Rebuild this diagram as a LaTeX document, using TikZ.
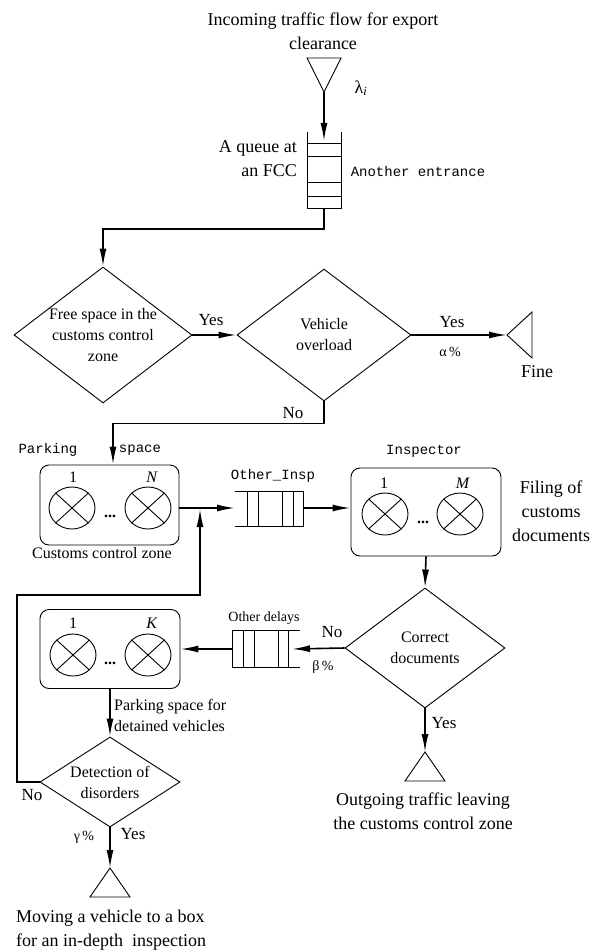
\documentclass[tikz,border=0pt]{standalone}
\usepackage{fontspec}
\setmainfont{Liberation Serif}
\setmonofont{Liberation Mono}
\usetikzlibrary{shapes.geometric,arrows.meta}
\begin{document}
\begin{tikzpicture}[x=1pt,y=-1pt,
  big/.style={font=\fontsize{18}{24}\selectfont, inner sep=0pt},
  txt/.style={font=\fontsize{16}{21}\selectfont, align=center, inner sep=0pt},
  yn/.style={font=\fontsize{17}{20}\selectfont, inner sep=0pt},
  small/.style={font=\fontsize{14}{16}\selectfont, inner sep=0pt},
  mono/.style={font=\fontsize{14}{16}\selectfont\ttfamily, inner sep=0pt},
  thinline/.style={line width=0.9pt},
  conn/.style={line width=1.6pt, -{Latex[length=18pt,width=7pt]}},
  plainline/.style={line width=1.2pt},
  dia/.style={shape=diamond, draw, line width=0.9pt, inner sep=0pt},
  srv/.style={draw, line width=0.9pt, rounded corners=9pt, inner sep=0pt},
  disk/.style={shape=ellipse, draw, line width=0.9pt, minimum width=46pt, minimum height=42pt, inner sep=0pt},
  dots/.style={font=\fontsize{16}{16}\selectfont\bfseries, inner sep=0pt}
]
\useasboundingbox (0,0) rectangle (592,952);

% ---------- top source ----------
\node[big, align=center] (intext) at (323,31) {Incoming traffic flow for export\\clearance};
\draw[thinline] (307,58) -- (341,58) -- (324,92) -- cycle;
\coordinate (src) at (324,92);
\node[big] (lam) at (361,88) {λ\textsubscript{\textit{i}}};

% ---------- vertical queue ----------
\draw[thinline] (307,132) -- (307,208) -- (341,208) -- (341,132);
\foreach \yy in {143,156,182,196} \draw[thinline] (307,\yy) -- (341,\yy);
\coordinate (q1in) at (324,141);
\coordinate (q1out) at (324,208);
\node[big, align=right, anchor=east] (qlab) at (297,159) {A queue at\\an FCC};
\node[mono] (another) at (418,171) {Another entrance};
\draw[conn] (src) -- (q1in);

% ---------- decisions ----------
\node[dia, minimum width=178pt, minimum height=136pt] (d1) at (103,335) {};
\node[txt] (d1t) at (d1.center) {Free space in the\\customs control\\zone};
\node[dia, minimum width=174pt, minimum height=132pt] (d2) at (324,335) {};
\node[txt] (d2t) at (d2.center) {Vehicle\\overload};

\draw[conn] (q1out) -- ++(0,21) -| (d1.north);
\draw[conn] (d1.east) -- (d2.west);
\node[yn] (yes1) at (211,320) {Yes};

% Fine
\draw[thinline] (507,335) -- (532,312) -- (532,358) -- cycle;
\coordinate (fine) at (507,335);
\draw[conn] (d2.east) -- (fine);
\node[yn] (yes2) at (452,322) {Yes};
\node[small] (alpha) at (450,352) {α\,\%};
\node[big] (finet) at (537,372) {Fine};

% ---------- parking ----------
\node[srv, minimum width=139pt, minimum height=80pt] (pbox) at (109.5,505) {};
\node[disk] (p1) at (72,508) {};
\node[disk] (pN) at (148,508) {};
\draw[thinline] (p1.north west) -- (p1.south east) (p1.north east) -- (p1.south west);
\draw[thinline] (pN.north west) -- (pN.south east) (pN.north east) -- (pN.south west);
\node[txt] (p1l) at (73,477) {1};
\node[txt] (pNl) at (152,477) {\textit{N}};
\node[dots] (pdots) at (110,516) {...};
\node[mono] (parkl) at (48,450) {Parking};
\node[mono] (spacel) at (140,450) {space};
\node[txt] (czone) at (102,553) {Customs control zone};
\draw[conn] (d2.south) -- ++(0,22) -| ([xshift=3.5pt]pbox.north);
\node[yn] (no1) at (293,413) {No};

% ---------- queue Other_Insp ----------
\draw[thinline] (235,491) -- (303,491) -- (303,526) -- (235,526);
\foreach \xx in {247,258,282,293} \draw[thinline] (\xx,491) -- (\xx,526);
\coordinate (q2w) at (235,508);
\coordinate (q2e) at (303,508);
\node[mono] (oilab) at (273,476) {Other\_Insp};
\draw[conn] (pbox.east |- q2w) -- (q2w);

% ---------- inspector ----------
\node[srv, minimum width=150pt, minimum height=88pt] (ibox) at (426,512) {};
\node[disk] (i1) at (385,514) {};
\node[disk] (iM) at (460,514) {};
\draw[thinline] (i1.north west) -- (i1.south east) (i1.north east) -- (i1.south west);
\draw[thinline] (iM.north west) -- (iM.south east) (iM.north east) -- (iM.south west);
\node[txt] (i1l) at (384,483) {1};
\node[txt] (iMl) at (463,483) {\textit{M}};
\node[dots] (idots) at (423,522) {...};
\node[mono] (insp) at (424,451) {Inspector};
\node[big, align=center] (filing) at (551,511) {Filing of\\customs\\documents};
\draw[conn] (q2e) -- (q2e -| ibox.west);

% ---------- correct documents ----------
\node[dia, minimum width=160pt, minimum height=120pt] (d3) at (425,648) {};
\node[txt] (d3t) at (d3.center) {Correct\\documents};
\draw[conn] (ibox.south) -- (d3.north);

% outgoing
\draw[thinline] (425,752) -- (445,781) -- (405,781) -- cycle;
\coordinate (outg) at (425,752);
\draw[conn] (d3.south) -- (outg);
\node[yn] (yes3) at (444,723) {Yes};
\node[big, align=center] (outt) at (423,811) {Outgoing traffic leaving\\the customs control zone};

% ---------- other delays queue ----------
\draw[thinline] (300,630) -- (232,630) -- (232,667) -- (300,667);
\foreach \xx in {243,254,278,288} \draw[thinline] (\xx,630) -- (\xx,667);
\coordinate (q3e) at (292,649);
\coordinate (q3w) at (232,649);
\node[small] (odlab) at (264,618) {Other delays};
\draw[conn] (d3.west) -- (q3e);
\node[yn] (no2) at (332,632) {No};
\node[small] (beta) at (323,667) {β\,\%};

% ---------- detained parking ----------
\node[srv, minimum width=140pt, minimum height=79pt] (kbox) at (110,649) {};
\node[disk] (k1) at (73,655) {};
\node[disk] (kK) at (148,655) {};
\draw[thinline] (k1.north west) -- (k1.south east) (k1.north east) -- (k1.south west);
\draw[thinline] (kK.north west) -- (kK.south east) (kK.north east) -- (kK.south west);
\node[txt] (k1l) at (73,623) {1};
\node[txt] (kKl) at (152,623) {\textit{K}};
\node[dots] (kdots) at (110,663) {...};
\draw[conn] (q3w) -- (kbox.east);
\node[txt, align=left, anchor=west] (detl) at (114,715) {Parking space for\\detained vehicles};

% ---------- detection ----------
\node[dia, minimum width=140pt, minimum height=90pt] (d4) at (110,782) {};
\node[txt] (d4t) at (d4.center) {Detection of\\disorders};
\draw[conn] (kbox.south) -- (d4.north);
\node[yn] (no3) at (32,795) {No};
\coordinate (jn) at (200,509);
\draw[line width=1.6pt, -{Latex[length=18pt,width=7pt]}] (d4.west) -- (17,782) -- (17,595) -- (200,595) -- (jn);

% inspection box
\draw[thinline] (110,868) -- (130,897) -- (90,897) -- cycle;
\coordinate (insb) at (110,868);
\draw[conn] (d4.south) -- (insb);
\node[yn] (yes4) at (133,834) {Yes};
\node[small] (gamma) at (84,837) {γ\,\%};
\node[big, align=left, anchor=west] (movt) at (16,930) {Moving a vehicle to a box\\for an in-depth\ \ inspection};
\end{tikzpicture}
\end{document}
